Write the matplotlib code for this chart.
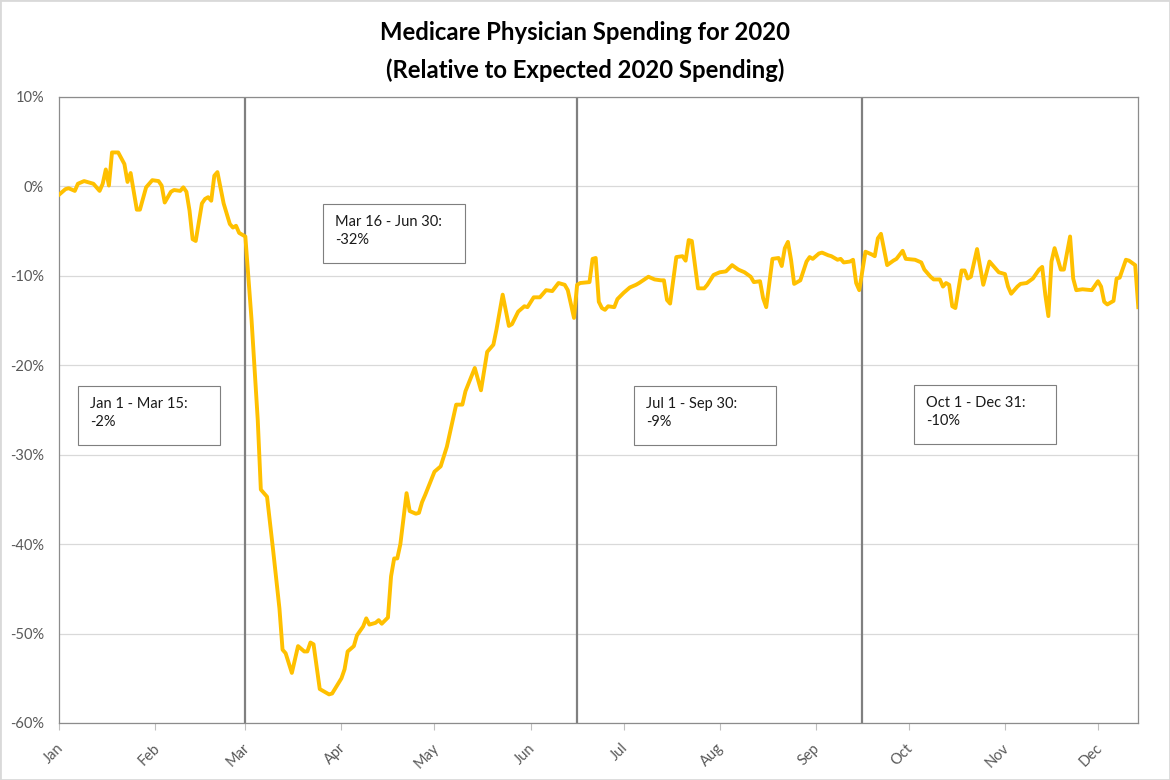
import numpy as np
import matplotlib
matplotlib.use("Agg")
import matplotlib.pyplot as plt
import matplotlib.dates as mdates
import matplotlib.transforms as mtrans
from matplotlib.patches import Rectangle

# days since 2020-01-01 and spending change vs expected (%)
day_offsets = [0, 2, 3, 5, 6, 8, 10, 11, 13, 14, 15, 16, 17, 19, 21, 22, 23, 25, 26, 28,
               30, 32, 33, 34, 36, 37, 39, 40, 41, 42, 43, 44, 46, 47, 48, 49, 50, 51, 53, 55,
               56, 57, 58, 59, 60, 62, 64, 65, 67, 69, 71, 72, 73, 75, 77, 79, 80, 81, 82, 84,
               85, 87, 88, 91, 92, 93, 95, 96, 98, 99, 100, 102, 103, 104, 106, 107, 108, 109, 110, 112,
               113, 115, 116, 117, 118, 121, 123, 125, 128, 130, 131, 134, 136, 138, 140, 141, 143, 145, 146, 148,
               150, 151, 153, 155, 157, 159, 161, 163, 164, 166, 167, 168, 171, 172, 173, 174, 175, 176, 177, 179,
               180, 182, 184, 186, 187, 190, 192, 194, 195, 196, 197, 199, 201, 202, 203, 204, 206, 208, 209, 211,
               213, 215, 217, 219, 221, 223, 224, 226, 227, 228, 230, 232, 233, 234, 235, 236, 237, 239, 241, 242,
               243, 245, 246, 248, 249, 251, 252, 253, 255, 256, 257, 258, 260, 262, 263, 264, 265, 267, 269, 270,
               272, 273, 276, 278, 279, 281, 282, 284, 285, 286, 287, 288, 289, 291, 292, 293, 294, 296, 298, 300,
               301, 303, 305, 306, 307, 309, 310, 312, 314, 316, 317, 318, 319, 320, 321, 323, 324, 326, 327, 328,
               330, 333, 335, 336, 337, 338, 340, 341, 342, 344, 345, 347, 348]
pct_change = [-0.9, -0.3, -0.2, -0.5, 0.3, 0.6, 0.4, 0.3, -0.5, 0.3, 1.9, 0.1, 3.8, 3.8, 2.5, 0.5, 1.5, -2.6, -2.6, -0.1,
              0.7, 0.6, 0.1, -1.8, -0.6, -0.4, -0.5, -0.1, -0.6, -2.7, -5.9, -6.1, -1.9, -1.4, -1.2, -1.6, 1.2, 1.6, -1.9, -4.2,
              -4.6, -4.4, -5.2, -5.4, -5.6, -14.9, -26.1, -33.9, -34.7, -40.8, -47.2, -51.8, -52.2, -54.4, -51.4, -52.0, -52.0, -51.0, -51.2, -56.2,
              -56.4, -56.8, -56.7, -55.0, -54.0, -52.0, -51.4, -50.2, -49.2, -48.3, -49.0, -48.8, -48.5, -48.9, -48.2, -43.6, -41.6, -41.6, -40.0, -34.3,
              -36.3, -36.6, -36.5, -35.3, -34.5, -31.9, -31.3, -29.1, -24.4, -24.4, -22.9, -20.3, -22.8, -18.5, -17.7, -16.0, -12.1, -15.6, -15.4, -14.0,
              -13.4, -13.5, -12.4, -12.4, -11.6, -11.7, -10.8, -11.0, -11.6, -14.7, -11.0, -10.8, -10.7, -8.1, -8.0, -12.9, -13.6, -13.8, -13.4, -13.5,
              -12.6, -11.9, -11.3, -11.0, -10.8, -10.1, -10.4, -10.5, -10.5, -12.7, -13.1, -7.9, -7.8, -8.3, -6.0, -6.1, -11.4, -11.4, -11.0, -9.9,
              -9.6, -9.5, -8.8, -9.3, -9.6, -10.1, -10.7, -10.6, -12.5, -13.5, -8.1, -8.0, -8.9, -6.9, -6.2, -8.2, -10.9, -10.5, -8.4, -7.9,
              -8.1, -7.5, -7.4, -7.7, -7.8, -8.2, -8.1, -8.5, -8.4, -8.2, -10.8, -11.6, -7.3, -7.6, -7.8, -5.8, -5.3, -8.8, -8.3, -8.1,
              -7.2, -8.1, -8.2, -8.5, -9.3, -10.1, -10.4, -10.4, -11.2, -10.8, -11.0, -13.4, -13.6, -9.4, -9.4, -10.3, -10.1, -7.0, -11.0, -8.4,
              -8.8, -9.6, -9.8, -11.2, -12.0, -11.2, -10.9, -10.8, -10.3, -9.3, -9.0, -12.1, -14.5, -8.4, -6.9, -9.3, -9.3, -5.6, -10.3, -11.6,
              -11.5, -11.6, -10.6, -11.2, -12.9, -13.2, -12.8, -10.3, -10.2, -8.2, -8.3, -8.8, -13.5]

period_breaks = ['2020-03-01', '2020-06-16', '2020-09-16']
period_labels = ['Jan 1 - Mar 15:\n-2%', 'Mar 16 - Jun 30:\n-32%',
                 'Jul 1 - Sep 30:\n-9%', 'Oct 1 - Dec 31:\n-10%']
y_ticks = [10, 0, -10, -20, -30, -40, -50, -60]

plt.rcParams['font.family'] = ['Lato', 'DejaVu Sans']

dates = np.datetime64('2020-01-01') + np.array(day_offsets).astype('timedelta64[D]')

fig = plt.figure(figsize=(11.7, 7.8), dpi=100)
ax = fig.add_axes([59.3 / 1170, 1 - 723 / 780, 1079 / 1170, 626 / 780])

ax.plot(dates, pct_change, color='#FFC000', lw=2.8, solid_joinstyle='round', zorder=3)
for d in period_breaks:
    ax.axvline(np.datetime64(d), color='#808080', lw=1.6, zorder=2)

ax.set_xlim(dates[0], dates[-1])
ax.set_ylim(-60, 10)
ax.set_yticks(y_ticks)
ax.set_yticklabels([f'{v}%' for v in y_ticks])
ax.yaxis.grid(True, color='#d9d9d9', lw=0.9)
ax.set_axisbelow(True)
ax.tick_params(axis='y', length=0, pad=11, labelsize=10.5, labelcolor='#595959')

ax.xaxis.set_major_locator(mdates.MonthLocator())
ax.xaxis.set_major_formatter(mdates.DateFormatter('%b'))
ax.tick_params(axis='x', length=5, color='#bfbfbf', pad=8, labelsize=10.5, labelcolor='#595959')
shift = mtrans.ScaledTranslation(7 / 100, 0, fig.dpi_scale_trans)
for lab in ax.get_xticklabels():
    lab.set_rotation(45)
    lab.set_ha('right')
    lab.set_transform(lab.get_transform() + shift)

for s in ax.spines.values():
    s.set_color('#8c8c8c')
    s.set_linewidth(0.9)

# annotation boxes (left, top in pixels of the figure)
box_pos = [(78, 386), (323, 204), (634, 386), (914, 385)]
bw, bh = 142, 59
for (bx, by), txt in zip(box_pos, period_labels):
    x0 = (bx - 59.3) / 1079
    y1 = (723 - by) / 626
    ax.add_patch(Rectangle((x0, y1 - bh / 626), bw / 1079, bh / 626, transform=ax.transAxes,
                           facecolor='white', edgecolor='#7f7f7f', lw=0.8, zorder=4))
    ax.text(x0 + 12 / 1079, y1 - 11 / 626, txt, transform=ax.transAxes, ha='left', va='top',
            fontsize=10.5, color='#1a1a1a', linespacing=1.35, zorder=5)

fig.text(0.5, 1 - 33 / 780, 'Medicare Physician Spending for 2020', ha='center', va='center',
         fontsize=17.2, fontweight='bold', color='black')
fig.text(0.5, 1 - 70 / 780, '(Relative to Expected 2020 Spending)', ha='center', va='center',
         fontsize=17.2, fontweight='bold', color='black')

fig.patches.append(Rectangle((0, 0), 1, 1, transform=fig.transFigure, fill=False,
                             edgecolor='#d9d9d9', lw=2))

fig.savefig('out.png', dpi=100)
